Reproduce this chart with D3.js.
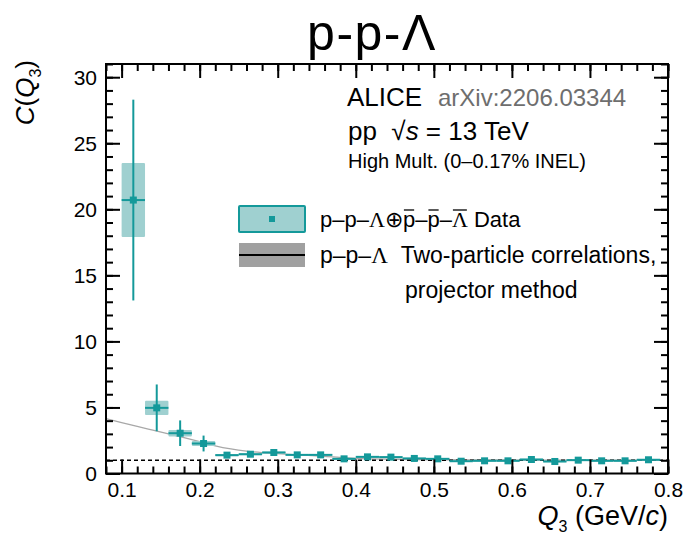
<!DOCTYPE html>
<html><head><meta charset="utf-8">
<script src="https://cdn.jsdelivr.net/npm/d3@7"></script>
<style>
body{margin:0;background:#fff}
text{font-family:"Liberation Sans",Arial,Helvetica,sans-serif;white-space:pre}
</style></head>
<body><svg id="c" width="684" height="542"></svg>
<script>
// ---- data ----
const q3 = [0.115,0.145,0.175,0.205,0.235,0.265,0.295,0.325,0.355,0.385,0.415,0.445,0.475,0.505,0.535,0.565,0.595,0.625,0.655,0.685,0.715,0.745,0.775];
const cVal = [20.7,4.97,3.05,2.27,1.39,1.46,1.59,1.41,1.41,1.11,1.26,1.24,1.14,1.11,0.93,0.96,0.96,1.06,0.91,1.01,0.96,0.96,1.04];
const statErr = [7.6,1.77,0.97,0.6,0.15,0.12,0.1,0.1,0.09,0.08,0.07,0.07,0.06,0.06,0.06,0.05,0.05,0.05,0.05,0.05,0.05,0.05,0.05];
const systErr = [2.8,0.54,0.25,0.19,0.09,0.08,0.08,0.07,0.07,0.06,0.06,0.06,0.05,0.05,0.05,0.05,0.05,0.05,0.05,0.05,0.05,0.05,0.05];
const binHalf = 0.015;
const curveQ = [0.08,0.10,0.12,0.14,0.16,0.18,0.20,0.22,0.24,0.26,0.28,0.30,0.33,0.36,0.40,0.45,0.50,0.60,0.70,0.80];
const curveC = [4.15,3.85,3.56,3.28,3.0,2.72,2.42,2.1,1.86,1.69,1.58,1.5,1.4,1.3,1.15,1.08,1.04,1.02,1.01,1.0];
const xTickVals = [0.1,0.2,0.3,0.4,0.5,0.6,0.7,0.8];
const yTickVals = [0,5,10,15,20,25,30];
const xDomain = [0.08,0.8];
const yDomain = [0,31];

// ---- layout ----
const svg = d3.select("#c");
const L=106, R=668, T=64, B=473.5;
const x = d3.scaleLinear().domain(xDomain).range([L,R]);
const y = d3.scaleLinear().domain(yDomain).range([B,T]);
const teal = "#14999a", tealFill = "#9fd0d0";

// curve (two-particle correlations)
svg.append("path")
  .datum(curveQ.map((q,i)=>[q,curveC[i]]))
  .attr("d", d3.line().x(d=>x(d[0])).y(d=>y(d[1])).curve(d3.curveMonotoneX))
  .attr("fill","none").attr("stroke","#a8a8a8").attr("stroke-width",1.3);

// baseline at 1
svg.append("line").attr("x1",L).attr("x2",R).attr("y1",y(1)).attr("y2",y(1))
  .attr("stroke","#000").attr("stroke-width",1.6).attr("stroke-dasharray","4,3");

// syst boxes
const g = svg.append("g");
g.selectAll("rect.sys").data(q3).join("rect")
  .attr("x",(d)=>x(d-binHalf)).attr("width",(d)=>x(d+binHalf)-x(d-binHalf))
  .attr("y",(d,i)=>y(cVal[i]+systErr[i])).attr("height",(d,i)=>y(cVal[i]-systErr[i])-y(cVal[i]+systErr[i]))
  .attr("fill",tealFill).attr("rx",1);
g.selectAll("line.st").data(q3).join("line")
  .attr("x1",d=>x(d)).attr("x2",d=>x(d))
  .attr("y1",(d,i)=>y(cVal[i]+statErr[i])).attr("y2",(d,i)=>y(cVal[i]-statErr[i]))
  .attr("stroke",teal).attr("stroke-width",2);
g.selectAll("line.hz").data(q3).join("line")
  .attr("x1",d=>x(d-binHalf)).attr("x2",d=>x(d+binHalf))
  .attr("y1",(d,i)=>y(cVal[i])).attr("y2",(d,i)=>y(cVal[i]))
  .attr("stroke",teal).attr("stroke-width",2);
g.selectAll("rect.mk").data(q3).join("rect")
  .attr("x",d=>x(d)-3.5).attr("y",(d,i)=>y(cVal[i])-3.5).attr("width",7).attr("height",7)
  .attr("fill",teal);

// ---- axes (ROOT style, inward ticks) ----
const xMinor = d3.range(0.08,0.8001,0.02);
const yMinor = d3.range(0,31.001,1);
function addAxis(axisGen, tr){
  const a = svg.append("g").attr("transform",tr).call(axisGen);
  a.select(".domain").remove();
  a.selectAll("line").attr("stroke","#000").attr("stroke-width",2);
  return a;
}
addAxis(d3.axisTop(x).tickValues(xMinor).tickSize(7).tickFormat(""),`translate(0,${B})`);
const xb = addAxis(d3.axisTop(x).tickValues(xTickVals).tickSize(14).tickFormat(d3.format(".1f")),`translate(0,${B})`);
xb.selectAll("text").attr("y",9).attr("dy","0.71em").attr("font-size",21).attr("fill","#000");
addAxis(d3.axisBottom(x).tickValues(xMinor).tickSize(7).tickFormat(""),`translate(0,${T})`);
addAxis(d3.axisBottom(x).tickValues(xTickVals).tickSize(14).tickFormat(""),`translate(0,${T})`);
addAxis(d3.axisRight(y).tickValues(yMinor).tickSize(7).tickFormat(""),`translate(${L},0)`);
const yl = addAxis(d3.axisRight(y).tickValues(yTickVals).tickSize(14).tickFormat(d3.format("d")),`translate(${L},0)`);
yl.selectAll("text").attr("x",-9).attr("text-anchor","end").attr("font-size",21).attr("fill","#000").attr("dy","0.35em");
addAxis(d3.axisLeft(y).tickValues(yMinor).tickSize(7).tickFormat(""),`translate(${R},0)`);
addAxis(d3.axisLeft(y).tickValues(yTickVals).tickSize(14).tickFormat(""),`translate(${R},0)`);
svg.append("rect").attr("x",L).attr("y",T).attr("width",R-L).attr("height",B-T)
  .attr("fill","none").attr("stroke","#000").attr("stroke-width",2);

// ---- titles ----
svg.append("text").attr("x",372).attr("y",50).attr("text-anchor","middle")
  .attr("font-size",50).attr("letter-spacing",1.5).text("p-p-Λ");

const xt = svg.append("text").attr("x",R).attr("y",525).attr("text-anchor","end").attr("font-size",27);
xt.append("tspan").attr("font-style","italic").text("Q");
xt.append("tspan").attr("font-size",16).attr("dy",7).text("3");
xt.append("tspan").attr("dy",-7).text(" (GeV/");
xt.append("tspan").attr("font-style","italic").text("c");
xt.append("tspan").text(")");

const yt = svg.append("text").attr("transform","translate(34,60) rotate(-90)").attr("text-anchor","end").attr("font-size",26);
yt.append("tspan").attr("font-style","italic").text("C");
yt.append("tspan").text("(");
yt.append("tspan").attr("font-style","italic").text("Q");
yt.append("tspan").attr("font-size",16).attr("dy",7).text("3");
yt.append("tspan").attr("dy",-7).text(")");

// ---- annotations ----
svg.append("text").attr("x",347).attr("y",106).attr("font-size",26).text("ALICE");
svg.append("text").attr("x",438).attr("y",106).attr("font-size",24).attr("fill","#6e6e6e").text("arXiv:2206.03344");
const pp = svg.append("text").attr("x",348).attr("y",140).attr("font-size",26);
pp.append("tspan").text("pp  √");
pp.append("tspan").attr("font-style","italic").text("s");
pp.append("tspan").text(" = 13 TeV");
svg.append("text").attr("x",348).attr("y",168).attr("font-size",20).text("High Mult. (0–0.17% INEL)");

// ---- legend ----
svg.append("rect").attr("x",239).attr("y",206).attr("width",66).attr("height",26)
  .attr("fill",tealFill).attr("stroke",teal).attr("stroke-width",2).attr("rx",1);
svg.append("rect").attr("x",269).attr("y",216).attr("width",6).attr("height",6).attr("fill",teal);
svg.append("rect").attr("x",239).attr("y",243).attr("width",66).attr("height",24).attr("fill","#a0a0a0");
svg.append("line").attr("x1",239).attr("x2",305).attr("y1",255).attr("y2",255).attr("stroke","#000").attr("stroke-width",2);

const l1parts = [["p–p–",0,0],["Λ",1,0],["⊕",0,0],["p",0,1],["–",0,0],["p",0,1],["–",0,0],["Λ",1,1],[" Data",0,0]];
const l1 = svg.append("text").attr("x",320).attr("y",227).attr("font-size",22);
l1parts.forEach(p=>{ const t=l1.append("tspan").text(p[0]); if(p[1]) t.attr("font-family","Liberation Serif"); });
let idx=0; const l1node=l1.node();
l1parts.forEach(p=>{
  if(p[2]){
    const e=l1node.getExtentOfChar(idx);
    svg.append("line").attr("x1",e.x+1).attr("x2",e.x+e.width-1).attr("y1",210).attr("y2",210)
      .attr("stroke","#000").attr("stroke-width",1.3);
  }
  idx+=p[0].length;
});

const l2 = svg.append("text").attr("x",320).attr("y",263).attr("font-size",23);
l2.append("tspan").text("p–p–");
l2.append("tspan").attr("font-family","Liberation Serif").text("Λ");
l2.append("tspan").text("  Two-particle correlations,");
svg.append("text").attr("x",405).attr("y",298).attr("font-size",23).text("projector method");
</script></body></html>
